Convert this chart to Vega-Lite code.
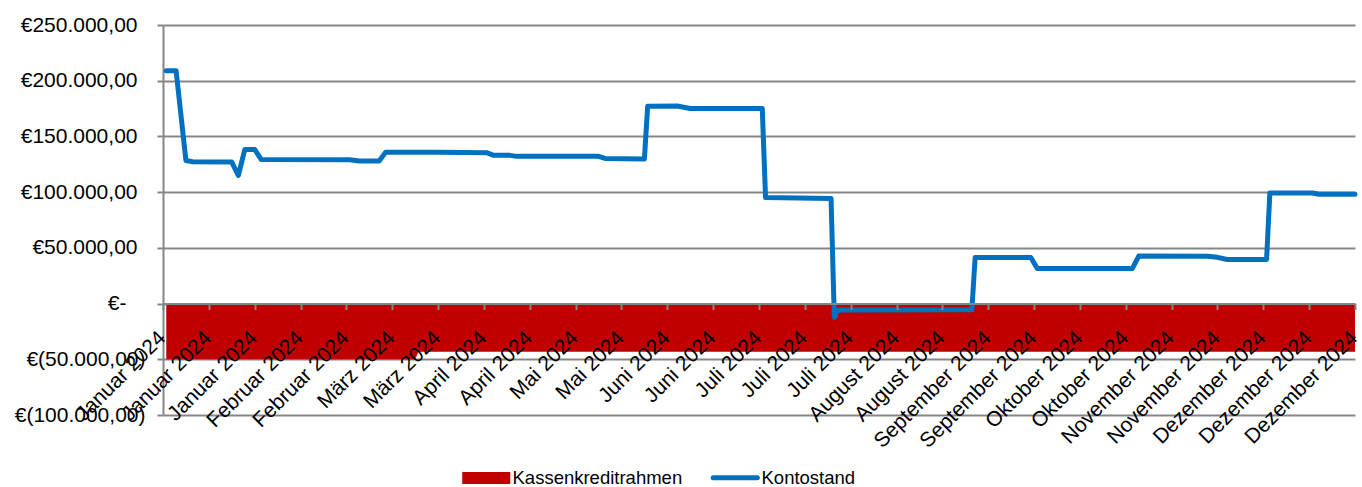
{
  "$schema": "https://vega.github.io/schema/vega-lite/v6.json",
  "width": 1192,
  "height": 390,
  "autosize": "none",
  "padding": {"left": 163, "top": 25, "right": 7, "bottom": 72},
  "background": "white",
  "config": {
    "view": {"stroke": null},
    "font": "Liberation Sans"
  },
  "data": {
    "values": [
      {"datum": "2024-01-02", "series": "Kassenkreditrahmen", "value": -50000},
      {"datum": "2024-03-18", "series": "Kassenkreditrahmen", "value": -50000},
      {"datum": "2024-03-19", "series": "Kassenkreditrahmen", "value": -43300},
      {"datum": "2024-12-30", "series": "Kassenkreditrahmen", "value": -43300},
      {"datum": "2024-01-02", "series": "Kontostand", "value": 209000},
      {"datum": "2024-01-05", "series": "Kontostand", "value": 209000},
      {"datum": "2024-01-08", "series": "Kontostand", "value": 128400},
      {"datum": "2024-01-10", "series": "Kontostand", "value": 127300},
      {"datum": "2024-01-22", "series": "Kontostand", "value": 127000},
      {"datum": "2024-01-24", "series": "Kontostand", "value": 115000},
      {"datum": "2024-01-26", "series": "Kontostand", "value": 138300},
      {"datum": "2024-01-29", "series": "Kontostand", "value": 138300},
      {"datum": "2024-01-31", "series": "Kontostand", "value": 129200},
      {"datum": "2024-02-27", "series": "Kontostand", "value": 129000},
      {"datum": "2024-03-01", "series": "Kontostand", "value": 128000},
      {"datum": "2024-03-07", "series": "Kontostand", "value": 128000},
      {"datum": "2024-03-09", "series": "Kontostand", "value": 135800},
      {"datum": "2024-03-25", "series": "Kontostand", "value": 135800},
      {"datum": "2024-04-09", "series": "Kontostand", "value": 135300},
      {"datum": "2024-04-11", "series": "Kontostand", "value": 133000},
      {"datum": "2024-04-16", "series": "Kontostand", "value": 133000},
      {"datum": "2024-04-18", "series": "Kontostand", "value": 132100},
      {"datum": "2024-05-13", "series": "Kontostand", "value": 132100},
      {"datum": "2024-05-15", "series": "Kontostand", "value": 130200},
      {"datum": "2024-05-27", "series": "Kontostand", "value": 129700},
      {"datum": "2024-05-28", "series": "Kontostand", "value": 177000},
      {"datum": "2024-06-06", "series": "Kontostand", "value": 177300},
      {"datum": "2024-06-10", "series": "Kontostand", "value": 175000},
      {"datum": "2024-07-02", "series": "Kontostand", "value": 175000},
      {"datum": "2024-07-03", "series": "Kontostand", "value": 95100},
      {"datum": "2024-07-23", "series": "Kontostand", "value": 94300},
      {"datum": "2024-07-24", "series": "Kontostand", "value": -12500},
      {"datum": "2024-07-25", "series": "Kontostand", "value": -5800},
      {"datum": "2024-09-04", "series": "Kontostand", "value": -5600},
      {"datum": "2024-09-05", "series": "Kontostand", "value": 41300},
      {"datum": "2024-09-22", "series": "Kontostand", "value": 41300},
      {"datum": "2024-09-24", "series": "Kontostand", "value": 31400},
      {"datum": "2024-10-23", "series": "Kontostand", "value": 31400},
      {"datum": "2024-10-25", "series": "Kontostand", "value": 42800},
      {"datum": "2024-11-15", "series": "Kontostand", "value": 42500},
      {"datum": "2024-11-18", "series": "Kontostand", "value": 41500},
      {"datum": "2024-11-21", "series": "Kontostand", "value": 39600},
      {"datum": "2024-12-03", "series": "Kontostand", "value": 39600},
      {"datum": "2024-12-04", "series": "Kontostand", "value": 99200},
      {"datum": "2024-12-17", "series": "Kontostand", "value": 99200},
      {"datum": "2024-12-19", "series": "Kontostand", "value": 98100},
      {"datum": "2024-12-30", "series": "Kontostand", "value": 98100}
    ]
  },
  "encoding": {
    "x": {
      "field": "datum",
      "type": "temporal",
      "scale": {
        "type": "utc",
        "nice": false,
        "domain": [
          {"year": 2024, "month": 1, "date": 1, "utc": true},
          {"year": 2024, "month": 12, "date": 30, "utc": true}
        ]
      },
      "axis": {
        "title": null,
        "grid": false,
        "values": [
          {"year": 2024, "month": 1, "date": 1, "utc": true},
          {"year": 2024, "month": 1, "date": 15, "utc": true},
          {"year": 2024, "month": 1, "date": 29, "utc": true},
          {"year": 2024, "month": 2, "date": 12, "utc": true},
          {"year": 2024, "month": 2, "date": 26, "utc": true},
          {"year": 2024, "month": 3, "date": 11, "utc": true},
          {"year": 2024, "month": 3, "date": 25, "utc": true},
          {"year": 2024, "month": 4, "date": 8, "utc": true},
          {"year": 2024, "month": 4, "date": 22, "utc": true},
          {"year": 2024, "month": 5, "date": 6, "utc": true},
          {"year": 2024, "month": 5, "date": 20, "utc": true},
          {"year": 2024, "month": 6, "date": 3, "utc": true},
          {"year": 2024, "month": 6, "date": 17, "utc": true},
          {"year": 2024, "month": 7, "date": 1, "utc": true},
          {"year": 2024, "month": 7, "date": 15, "utc": true},
          {"year": 2024, "month": 7, "date": 29, "utc": true},
          {"year": 2024, "month": 8, "date": 12, "utc": true},
          {"year": 2024, "month": 8, "date": 26, "utc": true},
          {"year": 2024, "month": 9, "date": 9, "utc": true},
          {"year": 2024, "month": 9, "date": 23, "utc": true},
          {"year": 2024, "month": 10, "date": 7, "utc": true},
          {"year": 2024, "month": 10, "date": 21, "utc": true},
          {"year": 2024, "month": 11, "date": 4, "utc": true},
          {"year": 2024, "month": 11, "date": 18, "utc": true},
          {"year": 2024, "month": 12, "date": 2, "utc": true},
          {"year": 2024, "month": 12, "date": 16, "utc": true},
          {"year": 2024, "month": 12, "date": 30, "utc": true}
        ],
        "labelExpr": "['Januar','Februar','März','April','Mai','Juni','Juli','August','September','Oktober','November','Dezember'][utcmonth(datum.value)] + ' ' + utcyear(datum.value)",
        "labelAngle": -45,
        "labelAlign": "right",
        "labelBaseline": "middle",
        "labelFontSize": 21,
        "labelColor": "#000000",
        "labelPadding": 25,
        "labelOffset": -1,
        "labelOverlap": false,
        "labelFlush": false,
        "labelBound": false,
        "labelLimit": 0,
        "tickSize": 6,
        "tickWidth": 2,
        "tickColor": "#868686",
        "domainColor": "#868686",
        "domainWidth": 2,
        "offset": {"expr": "scale('y', 0) - height"},
        "zindex": 1
      }
    },
    "y": {
      "field": "value",
      "type": "quantitative",
      "scale": {"domain": [-100000, 250000], "nice": false},
      "axis": {
        "title": null,
        "values": [-100000, -50000, 0, 50000, 100000, 150000, 200000, 250000],
        "labelExpr": "datum.value == 0 ? '€-' : datum.value < 0 ? '€(' + replace(format(-datum.value, ',.0f'), ',', '.') + ',00)' : '€' + replace(format(datum.value, ',.0f'), ',', '.') + ',00'",
        "labelFontSize": 21,
        "labelColor": "#000000",
        "labelPadding": {
          "condition": [
            {"test": "datum.value == 0", "value": 31},
            {"test": "datum.value < 0", "value": 12}
          ],
          "value": 20
        },
        "labelLimit": 0,
        "tickSize": 6,
        "tickWidth": 2,
        "tickColor": "#868686",
        "domainColor": "#868686",
        "domainWidth": 2,
        "gridColor": "#868686",
        "gridWidth": 2
      }
    },
    "color": {
      "field": "series",
      "type": "nominal",
      "scale": {"domain": ["Kassenkreditrahmen", "Kontostand"], "range": ["#C00000", "#0070C0"]},
      "legend": {
        "title": null,
        "orient": "none",
        "direction": "horizontal",
        "legendX": 314,
        "legendY": 443,
        "symbolSize": 2304,
        "labelFontSize": 18.5,
        "labelColor": "#000000",
        "labelOffset": 17,
        "labelLimit": 0,
        "columnPadding": 20,
        "padding": 0,
        "encode": {
          "symbols": {
            "update": {
              "shape": {"signal": "datum.value === 'Kontostand' ? 'M-0.92,0H0.92' : 'M-1,-0.25H1V0.25H-1Z'"},
              "fill": {"signal": "datum.value === 'Kontostand' ? 'transparent' : '#C00000'"},
              "stroke": {"signal": "datum.value === 'Kontostand' ? '#0070C0' : 'transparent'"},
              "strokeWidth": {"signal": "datum.value === 'Kontostand' ? 5 : 0"},
              "strokeCap": {"value": "round"},
              "opacity": {"value": 1},
              "fillOpacity": {"value": 1}
            }
          }
        }
      }
    }
  },
  "layer": [
    {
      "transform": [{"filter": "datum.series === 'Kassenkreditrahmen'"}],
      "mark": {"type": "area", "opacity": 1}
    },
    {
      "transform": [{"filter": "datum.series === 'Kontostand'"}],
      "mark": {"type": "line", "strokeWidth": 5, "strokeCap": "round", "strokeJoin": "round"}
    }
  ]
}
